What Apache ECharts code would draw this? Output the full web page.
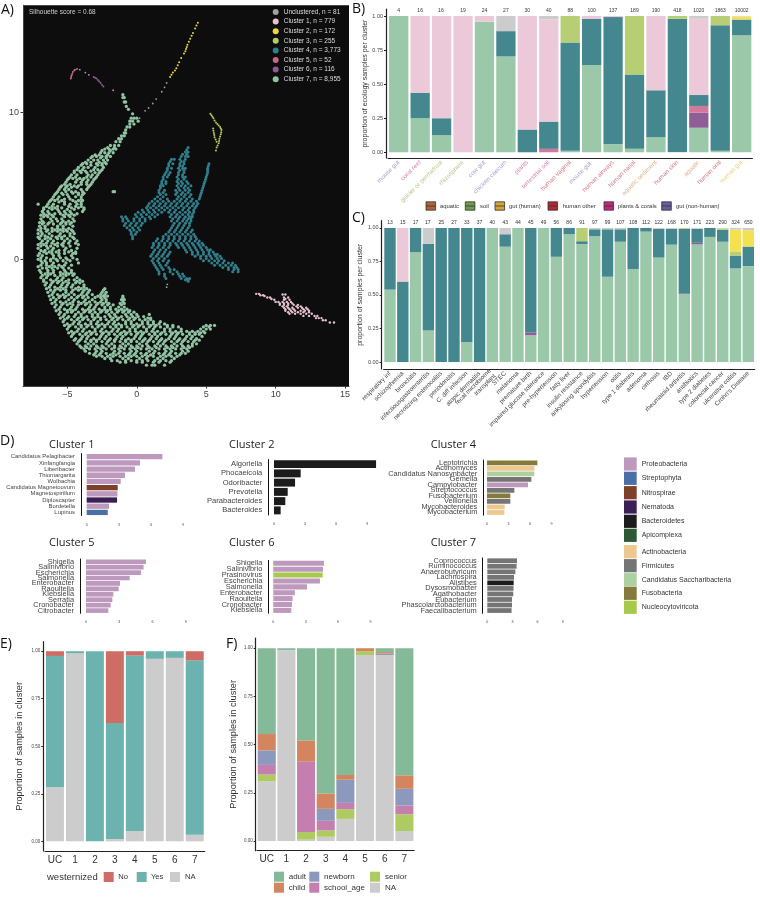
<!DOCTYPE html>
<html>
<head>
<meta charset="utf-8">
<title>Cluster overview</title>
<script src="https://cdn.jsdelivr.net/npm/echarts@6/dist/echarts.min.js"></script>
<style>
  html, body { margin: 0; padding: 0; background: #fff; }
  #main { width: 760px; height: 897px; }
</style>
</head>
<body>
<div id="main"></div>
<script>
// ---- panel A: embedding as [y, x, x, ...] rows
const cluster7Rows = [
  [11.2,-1.0],[11.0,-1.0,-0.9],[10.7,-0.9,-0.8],[10.4,-0.75],[10.2,-0.6],[9.9,-0.3],
  [9.6,-0.4,-0.2,0],[9.4,-0.5,-0.3,0.1],[9.2,-0.5,-0.2],[9.0,-0.7,-0.5],[8.8,-0.8],[8.6,-0.9,-0.8],
  [8.4,-1.1,-0.9],[8.2,-1.3,-1.1],[8.0,-1.5,-1.2],[7.75,-1.9,-1.6,-1.3],[7.5,-2.3,-2.0,-1.7,-1.5],
  [7.25,-2.6,-2.3,-2.0,-1.7],[7.0,-3.2,-2.9,-2.5,-2.2,-1.9],[6.75,-3.5,-3.1,-2.8,-2.4,-2.1],
  [6.5,-3.9,-3.6,-2.9,-2.5,-2.2],[6.25,-4.2,-3.8,-3.5,-3.0,-2.4],[6.0,-4.5,-4.1,-3.7,-3.3,-2.6],
  [5.75,-4.7,-4.3,-3.5,-3.2,-2.8],[5.5,-4.9,-4.6,-4.1,-3.8,-3.0],[5.25,-5.1,-4.4,-4.0,-3.6,-3.2],
  [5.0,-5.4,-5.0,-4.5,-4.2,-3.4],[4.75,-5.6,-5.2,-4.9,-4.0,-3.6],[4.5,-5.8,-5.4,-4.6,-4.2,-3.8],
  [4.25,-6.0,-5.6,-4.9,-4.4,-4.0],[4.0,-6.2,-5.9,-5.4,-4.6,-4.2,-3.9],[3.75,-7.1,-6.4,-6.0,-5.2,-4.8,-4.3,-4.0],
  [3.5,-6.7,-6.3,-5.9,-5.4,-4.7,-4.2,-3.8],[3.25,-6.8,-6.4,-5.6,-5.2,-4.8,-3.9],[3.0,-6.9,-6.5,-6.1,-5.3,-4.9,-4.5],
  [2.75,-6.9,-6.2,-5.8,-5.4,-4.6],[2.5,-7.0,-6.7,-6.3,-5.4,-5.1,-4.7],[2.25,-7.0,-6.6,-5.7,-5.3,-4.6],
  [2.0,-7.1,-6.4,-5.9,-5.5,-5.1,-4.7],[1.75,-7.1,-6.8,-6.3,-5.5,-4.8,-4.5],[1.5,-7.1,-6.4,-5.8,-5.4,-4.6],
  [1.25,-6.8,-6.4,-6.0,-5.2,-4.8,-4.3],[1.0,-7.1,-6.7,-5.9,-5.4,-4.2],[0.75,-7.1,-6.4,-6.0,-5.1,-4.3],
  [0.5,-6.7,-6.3,-5.8,-4.9,-4.4],[0.25,-7.1,-6.8,-6.0,-5.6,-4.7],[0,-7.1,-6.2,-5.8,-5.0,-4.3],
  [-0.25,-6.8,-6.5,-6.0,-5.1,-4.2],[-0.5,-7.1,-6.3,-5.9,-5.4],[-0.75,-7.0,-6.4,-6.0,-5.2,-4.7],
  [-1.0,-6.6,-6.2,-5.3,-4.9,-4.5],[-1.25,-6.9,-6.5,-5.7,-5.3,-4.3],[-1.5,-6.7,-6.0,-5.6,-5.1,-4.3,-3.9],
  [-1.75,-6.6,-6.2,-5.4,-5.0,-4.6,-3.8],[-2.0,-6.5,-5.7,-5.3,-4.4,-4.0,-3.6,-2.3],
  [-2.25,-6.4,-6.0,-5.1,-4.7,-3.9,-3.5,-2.5,-2.2],[-2.5,-6.3,-5.5,-5.1,-4.2,-3.8,-2.8,-2.4,-2.1,-1.0],
  [-2.75,-6.2,-5.8,-4.9,-4.5,-3.7,-3.2,-2.5,-2.2,-1.1,-0.9],[-3.0,-6.1,-5.3,-4.8,-4.0,-3.6,-2.8,-2.4,-2.0,-1.2,-0.9],
  [-3.25,-5.9,-5.5,-4.7,-4.3,-3.4,-3.0,-2.3,-1.9,-1.3,-0.9],[-3.5,-5.8,-5.0,-4.6,-3.7,-3.3,-2.5,-2.1,-1.3,-0.9,-0.5],
  [-3.75,-5.6,-5.2,-4.4,-4.0,-3.2,-2.8,-2.0,-1.6,-0.8,-0.4,0,0.9],[-4.0,-5.5,-5.0,-4.2,-3.8,-3.0,-2.6,-1.7,-1.3,-0.5,-0.1,0.8,1.0],
  [-4.25,-5.3,-4.5,-4.1,-3.3,-2.8,-2.0,-1.6,-0.8,-0.4,0.4,0.8,1.2,1.7],
  [-4.5,-5.2,-4.8,-4.0,-3.5,-2.7,-2.3,-1.5,-1.1,-0.2,0.2,1.0,1.4,2.2,2.6,5.0,5.3,5.6],
  [-4.75,-5.0,-4.2,-3.8,-3.0,-2.5,-1.7,-1.3,-0.5,-0.1,0.7,1.2,2.0,2.4,3.2,4.6,5.0,5.3],
  [-5.0,-4.9,-4.5,-3.6,-3.2,-2.4,-2.0,-1.1,-0.7,0.1,0.5,1.3,1.8,2.6,3.0,3.8,4.2,4.6,4.9],
  [-5.25,-4.7,-3.9,-3.5,-2.6,-2.2,-1.4,-1.0,-0.1,0.3,1.1,1.5,2.4,2.8,3.6,4.0,4.7],
  [-5.5,-4.5,-4.1,-3.3,-2.9,-2.0,-1.6,-0.8,-0.4,0.5,0.9,1.7,2.1,3.0,3.4,4.2,4.5],
  [-5.75,-4.3,-3.5,-3.1,-2.2,-1.8,-1.0,-0.6,0.2,0.7,1.5,1.9,2.7,3.2,4.0,4.3],
  [-6.0,-4.0,-3.6,-2.8,-2.4,-1.6,-1.1,-0.3,0.1,0.9,1.4,2.2,2.6,3.4,3.8],
  [-6.25,-3.7,-2.9,-2.5,-1.6,-1.2,-0.4,0,0.9,1.3,2.1,2.5,3.3,3.7],
  [-6.5,-3.1,-2.7,-1.9,-1.5,-0.6,-0.2,0.6,1.0,1.9,2.3,3.1],
  [-6.75,-2.3,-1.9,-1.0,-0.6,0.2,0.7,1.5,1.9,2.7],
  [-7.0,-1.2,-0.8,0,0.4,1.2,1.6,2.4],[-7.2,0.7,1.1,1.3,2.0],[4.6,-1.7,-1.6],
  // in-between rows
  [7.6,-2.1,-1.6],[7.4,-2.5,-1.9],[7.1,-3.0,-2.7,-2.1],[6.9,-3.3,-2.6,-2.2],[6.6,-3.7,-3.3,-2.7,-2.3],
  [6.4,-4.0,-3.3,-2.8,-2.5],[6.1,-4.3,-3.9,-3.1,-2.8,-2.5],[5.9,-4.5,-4.0,-3.6,-3.0,-2.7],[5.6,-4.8,-4.4,-3.6,-3.3,-2.9],[5.4,-5.0,-4.3,-3.9,-3.5,-3.1],
  [5.1,-5.2,-4.8,-4.0,-3.6,-3.3],[4.9,-5.5,-5.1,-4.7,-4.3,-3.5],[4.6,-5.7,-5.1,-4.7,-4.4,-3.9],[4.4,-5.9,-5.3,-5.0,-4.2,-3.9],[4.1,-6.1,-5.7,-5.2,-4.8,-4.0],
  [3.9,-6.3,-5.6,-5.2,-4.4,-4.0],[3.6,-6.5,-6.1,-5.7,-4.9,-4.4,-4.0],[3.4,-6.7,-6.1,-5.7,-5.0,-4.5,-3.8],[3.1,-6.7,-6.3,-5.9,-5.5,-5.1,-4.7,-4.3],[2.9,-6.7,-6.4,-6.0,-5.2,-4.8],
  [2.6,-6.8,-6.1,-5.7,-5.3,-4.9,-4.5],[2.4,-6.8,-6.4,-6.0,-5.5,-5.1,-4.8],[2.1,-6.9,-6.6,-6.1,-5.7,-5.3,-4.9],[1.9,-6.9,-6.5,-6.1,-5.7,-5.3,-5.0,-4.6],[1.6,-6.9,-6.6,-6.1,-5.6,-5.2,-4.8],
  [1.4,-7.0,-6.6,-6.2,-5.7,-5.4,-5.0,-4.5],[1.1,-6.9,-6.5,-6.1,-5.7,-5.3,-4.9,-4.4],[0.9,-6.9,-6.5,-6.2,-5.7,-5.3,-4.8],[0.6,-6.9,-6.6,-6.1,-5.6,-5.2,-4.7],[0.4,-7.0,-6.5,-6.1,-5.6,-5.2,-4.6,-4.4],
  [0.1,-6.9,-6.5,-6.0,-5.5,-5.1,-4.6],[-0.1,-6.9,-6.6,-6.2,-5.7,-5.3,-4.8],[-0.4,-6.9,-6.5,-6.1,-5.6,-5.2,-4.7],[-0.6,-6.8,-6.5,-6.1,-5.7,-5.3,-4.9],[-0.9,-6.9,-6.4,-6.0,-5.5,-5.1,-4.7],
  [-1.1,-6.8,-6.4,-5.9,-5.5,-5.1,-4.6],[-1.4,-6.7,-6.2,-5.8,-5.4,-4.9,-4.5,-4.1],[-1.6,-6.5,-6.1,-5.7,-5.3,-4.9,-4.4,-4.1],[-1.9,-6.3,-5.9,-5.5,-5.1,-4.7,-4.2,-3.8],[-2.1,-6.2,-5.9,-5.5,-5.1,-4.6,-4.2,-3.8,-3.4,-2.4],
  [-2.4,-6.1,-5.7,-5.3,-4.9,-4.5,-4.0,-3.6,-3.2,-2.6,-2.3],[-2.6,-6.0,-5.6,-5.2,-4.7,-4.3,-3.9,-3.5,-3.0,-2.6,-2.3,-1.0],[-2.9,-5.9,-5.5,-5.1,-4.6,-4.2,-3.8,-3.4,-3.0,-2.6,-2.2,-1.0],
  [-3.1,-5.8,-5.4,-5.0,-4.6,-4.2,-3.7,-3.3,-2.9,-2.5,-2.1,-1.7,-1.1],[-3.4,-5.6,-5.2,-4.8,-4.4,-3.9,-3.5,-3.1,-2.7,-2.3,-1.9,-1.5,-1.1,-0.7],
  [-3.6,-5.5,-5.0,-4.7,-4.2,-3.8,-3.4,-3.0,-2.6,-2.2,-1.8,-1.4,-1.0,-0.6,-0.2],[-3.9,-5.3,-4.9,-4.5,-4.0,-3.6,-3.2,-2.8,-2.3,-1.9,-1.5,-1.1,-0.7,-0.3,0.1,0.5],
  [-4.1,-5.2,-4.7,-4.3,-3.9,-3.5,-3.1,-2.6,-2.2,-1.8,-1.4,-1.0,-0.6,-0.2,0.2,0.6,1.0],[-4.4,-5.0,-4.6,-4.2,-3.7,-3.3,-2.9,-2.5,-2.1,-1.7,-1.3,-0.8,-0.4,0,0.4,0.8,1.2,1.6,2.0],
  [-4.6,-4.9,-4.4,-4.0,-3.6,-3.2,-2.8,-2.3,-1.9,-1.5,-1.1,-0.7,-0.3,0.1,0.5,0.9,1.3,1.7,2.2,2.6,3.0,4.8,5.2],
  [-4.9,-4.7,-4.3,-3.9,-3.4,-3.0,-2.6,-2.2,-1.8,-1.4,-0.9,-0.5,-0.1,0.3,0.7,1.1,1.5,2.0,2.4,2.8,3.2,3.6,4.0,4.4,4.8],
  [-5.1,-4.6,-4.1,-3.7,-3.3,-2.9,-2.5,-2.0,-1.6,-1.2,-0.8,-0.4,0,0.4,0.9,1.3,1.7,2.1,2.5,2.9,3.3,3.8,4.2,4.5],
  [-5.4,-4.4,-4.0,-3.6,-3.1,-2.7,-2.3,-1.9,-1.5,-1.1,-0.6,-0.2,0.2,0.6,1.0,1.4,1.8,2.3,2.7,3.1,3.5,3.9,4.3],
  [-5.6,-4.2,-3.7,-3.3,-2.9,-2.5,-2.1,-1.6,-1.2,-0.8,-0.4,0,0.4,0.8,1.2,1.6,2.0,2.5,2.9,3.3,3.7,4.1],
  [-5.9,-4.1,-3.7,-3.3,-2.9,-2.5,-2.0,-1.6,-1.2,-0.8,-0.4,0,0.4,0.8,1.3,1.7,2.1,2.5,2.9,3.3,3.7,4.0],
  [-6.1,-3.8,-3.4,-3.0,-2.6,-2.2,-1.8,-1.3,-0.9,-0.5,-0.1,0.3,0.7,1.1,1.6,2.0,2.4,2.8,3.2,3.6],
  [-6.4,-3.4,-3.0,-2.6,-2.2,-1.7,-1.3,-0.9,-0.5,-0.1,0.3,0.7,1.2,1.6,2.0,2.4,2.8,3.2,3.5],
  [-6.6,-2.9,-2.5,-2.1,-1.7,-1.2,-0.8,-0.4,0,0.4,0.8,1.2,1.7,2.1,2.5,2.9],
  [-6.9,-1.8,-1.4,-0.8,-0.4,0,0.4,0.8,1.3,1.7,2.1,2.5]
];
const cluster4Rows = [
  [7.6,3.7],[7.3,3.5,3.7],[7.0,3.2,3.5,3.7],[6.8,2.5,2.7,3.1,3.5],[6.5,2.3,2.6,3.1,3.4,5.2],
  [6.2,2.2,2.5,3.0,3.3,3.5,5.1],[5.9,2.1,2.4,3.0,3.4,5.1],[5.6,1.9,2.2,2.9,3.3,3.5,5.0],
  [5.3,1.8,2.1,2.9,3.2,3.6,4.9],[5.0,1.7,1.9,2.9,3.2,3.5,3.9,4.8],[4.7,1.6,2.0,2.8,3.1,3.5,3.8,4.7],
  [4.4,1.7,2.1,2.8,3.2,3.5,3.9,4.6],[4.1,1.3,1.7,2.2,2.9,3.2,3.6,4.0,4.5],
  [3.8,0.9,1.3,1.7,2.1,2.5,2.9,3.3,3.7,4.1,4.4],[3.5,0.7,1.0,1.4,1.8,2.2,2.6,3.0,3.4,3.8,4.2],
  [3.2,0.1,0.5,0.9,1.3,1.8,2.3,2.7,3.1,3.5,3.8,4.1],[2.9,-1.1,-0.8,0,0.4,0.9,1.3,2.4,2.8,3.1,3.5,3.8,4.0],
  [2.6,-1.0,-0.6,-0.2,0.2,0.6,2.5,2.9,3.3,3.6,3.9],[2.3,-0.9,-0.5,-0.1,0.3,2.6,3.0,3.4,3.8],
  [2.0,-0.5,-0.2,0.2,2.4,2.8,3.2,3.6,4.0],[1.7,-0.4,-0.1,2.1,2.5,2.9,3.3,3.7,4.1],
  [1.4,-0.3,1.5,1.9,2.3,2.7,3.1,3.5,3.9,4.3],[1.1,1.2,1.6,2.0,2.4,2.8,3.2,3.6,4.0,4.4,4.7],
  [0.8,1.1,1.5,1.9,2.3,3.0,3.4,3.8,4.2,4.6,5.0],[0.5,1.2,1.6,2.0,2.4,3.6,4.0,4.4,4.8,5.2,5.5],
  [0.2,1.0,1.4,1.8,2.2,4.2,4.6,5.0,5.3,5.7,6.0],[-0.1,1.1,1.5,1.9,2.3,4.8,5.2,5.6,5.9,6.3],
  [-0.4,1.3,1.7,2.1,5.6,6.0,6.4,6.8,7.1],[-0.7,1.5,1.9,2.4,2.7,6.6,7.0,7.3],
  [-1.0,1.6,2.0,2.6,3.0,3.3],[-1.3,2.1,3.2,3.6,3.8],[-1.5,3.7],
  // in-between rows
  [7.45,3.6],[7.15,3.3,3.6],[6.65,2.4,3.2,3.4],[6.35,2.3,3.1,3.3,5.15],[6.05,2.2,3.1,3.4,5.1],[5.75,2.0,2.3,3.0,3.3,5.05],[5.45,1.9,3.0,3.4,4.95],
  [5.15,1.8,2.1,3.0,3.3,3.7,4.85],[4.85,1.7,3.0,3.4,3.7,4.75],[4.55,1.6,1.9,2.9,3.3,3.7,4.65],[4.25,1.5,1.9,3.0,3.4,3.8,4.55],
  [3.95,1.1,1.5,1.9,2.3,2.7,3.1,3.5,3.9,4.3],[3.65,0.8,1.2,1.6,2.0,2.4,2.8,3.2,3.6,4.0,4.3],[3.35,0.4,0.8,1.2,1.6,2.0,2.4,2.8,3.3,3.7,4.1],
  [3.05,-0.1,0.3,0.7,1.1,1.5,2.5,2.9,3.3,3.7,4.0],[2.75,-1.0,-0.7,-0.2,0.2,0.6,1.0,2.6,3.0,3.4,3.7,3.9],[2.45,-0.8,-0.4,0,0.4,2.7,3.1,3.5,3.8],
  [2.15,-0.7,-0.3,0.1,2.5,2.9,3.3,3.7],[1.85,-0.4,0,2.3,2.7,3.1,3.5,3.9],[1.55,-0.3,1.9,2.3,2.7,3.1,3.5,3.9,4.2],[1.25,1.4,1.8,2.2,2.6,3.0,3.4,3.8,4.2,4.5],
  [0.95,1.2,1.6,2.0,2.4,2.9,3.3,3.7,4.1,4.5,4.8],[0.65,1.3,1.7,2.1,3.5,3.9,4.3,4.7,5.1,5.3],[0.35,1.1,1.5,1.9,2.3,4.0,4.4,4.8,5.2,5.6,5.8],
  [0.05,1.2,1.6,2.0,4.6,5.0,5.4,5.8,6.1],[-0.25,1.2,1.6,2.2,5.4,5.8,6.2,6.6,6.9],[-0.55,1.4,1.8,2.3,6.2,6.6,7.0,7.2],[-0.85,1.6,2.4,2.9,6.9,7.3],[-1.15,2.0,3.1,3.4],[-1.4,3.5,3.7]
];
const cluster1Rows = [
  [-2.35,8.6,8.8],[-2.45,8.9,9.1],[-2.5,9.2],[-2.4,10.5,10.7],[-2.6,9.4,9.6,10.6,10.9],[-2.7,9.7,10.7],[-2.75,9.9,10.6,11.0],
  [-2.9,10.0,10.2,10.5,10.8,11.1],[-3.0,10.3,10.6,10.9,11.2],[-3.1,10.3,10.6,10.9,11.3,11.6],[-3.2,10.5,10.8,11.5,11.8],[-3.3,10.6,10.9,11.2,11.6,11.9,12.2],
  [-3.4,10.7,11.0,11.3,12.0,12.3],[-3.5,10.7,11.1,11.4,11.8,12.1,12.4],[-3.6,10.9,11.2,11.6,12.0,12.4],[-3.7,11.0,11.4,11.8,12.2,12.6],[-3.85,12.0,12.4,12.8,13.0],
  [-4.0,12.9,13.1,13.3],[-4.15,13.4,13.6],[-4.3,13.9,14.2]
];
const cluster2Pts = [[2.4,12.4],[2.5,12.55],[2.6,12.7],[2.75,12.85],[2.85,13.0],[2.95,13.2],[3.05,13.4],[3.2,13.7],[3.4,14.0],[3.5,14.15],[3.55,14.3],[3.6,14.45],[3.65,14.6],[3.75,14.8],[3.85,15.0],[3.95,15.2],[4.05,15.4],[4.2,15.7],[4.3,15.9],[4.4,16.1]];
const cluster3Pts = [[5.3,9.9],[5.38,9.8],[5.45,9.7],[5.52,9.6],[5.6,9.45],[5.7,9.3],[5.8,9.2],[5.9,9.1],[6.0,9.0],[6.05,8.9],[6.1,8.8],[6.08,8.65],[6.05,8.5],[6.0,8.35],[5.95,8.2],[5.93,8.05],[5.9,7.9],[5.82,7.75],[5.75,7.6],[5.7,7.4],[5.5,8.9],[5.52,8.75],[5.55,8.6],[5.58,8.45],[5.6,8.3],[5.68,8.15],[5.75,8.0]];
const cluster5Pts = [[-4.75,12.3],[-4.72,12.4],[-4.7,12.5],[-4.65,12.6],[-4.6,12.75],[-4.5,12.85],[-4.45,12.9],[-4.3,12.95]];
const cluster6Pts = [[-3.1,12.4],[-3.0,12.35],[-2.9,12.3],[-2.8,12.2],[-2.7,12.1],[-2.6,12.0],[-2.5,11.85],[-2.4,11.75]];
const unclusteredPts = [[-4.1,12.9],[-3.7,12.7],[-3.45,12.55],[-1.7,11.5],[0.6,10.1],[0.85,10.3],[1.15,10.6],[1.4,10.9],[1.8,11.4],[2.0,11.7],[2.15,12.0],[2.2,-1.7],[2.15,-1.9],[0.2,9.6]];

const clusterLegend = ['Unclustered, n = 81','Cluster 1, n = 779','Cluster 2, n = 172','Cluster 3, n = 255','Cluster 4, n = 3,773','Cluster 5, n = 52','Cluster 6, n = 116','Cluster 7, n = 8,955'];

// ---- panel B: ecology
const ecologyNames = ['mouse gut','coral reef','glacier or permafrost','rhizosphere','cow gut','chicken caecum','plants','terrestrial soil','human vaginal','mouse gut ','human airways','human nasal','aquatic sediment','human skin','aquatic','human oral','human gut'];
const ecologyCounts = ['4','16','16 ','19','24','27','30','40','88','100','137','189','190','418','1020','1863','10002'];
const ecologyGroups = ['nh','pc','so','so','nh','nh','pc','pc','ho','nh','ho','ho','aq','ho','aq','ho','gh'];
const ecoC7 = [1,0.25,0.125,0,0.958,0.704,0,0,0.011,0.64,0.058,0.026,0.11,0.002,0.18,0.012,0.86];
const ecoC6 = [0,0,0,0,0,0,0,0,0,0,0,0,0,0,0.11,0,0];
const ecoC5 = [0,0,0,0,0,0,0,0.025,0,0,0,0,0,0,0.05,0,0];
const ecoC4 = [0,0.1875,0.125,0,0,0.185,0.167,0.2,0.795,0.34,0.934,0.545,0.345,0.978,0.08,0.92,0.112];
const ecoC3 = [0,0,0,0,0,0,0,0,0.194,0,0,0.429,0,0.02,0,0.068,0.005];
const ecoC2 = [0,0,0,0,0,0,0,0,0,0,0,0,0,0,0,0,0.02];
const ecoC1 = [0,0.5625,0.75,1,0.042,0,0.833,0.75,0,0.02,0.008,0,0.545,0,0.56,0,0.003];
const ecoUC = [0,0,0,0,0,0.111,0,0.025,0,0,0,0,0,0,0.02,0,0];

// ---- panel C: disease
const diseaseNames = ['respiratory inf','schizophrenia','bronchitis','infectiousgastroenteritis','necrotizing enterocolitis','periodontitis','C. diff infection','atopic dermatitis','fecal microbiome\ntransplant','STEC','melanoma','premature birth','impaired glucose tolerance','pre-hypertension','fatty liver','insulin resistance','ankylosing spondylitis','hypertension','otitis','type 1 diabetes','adenoma','cirrhosis','IBD','rheumatoid arthritis','antibiotics','type 2 diabetes','colorectal cancer','ulcerative colitis',"Crohn's Disease"];
const diseaseCounts = ['13','15','17','17 ','25','27','33','37','40','43','44','45','49','56','86','91','97','99','107','108','112','122','168','170','171','223','290','324','650'];
const disC7 = [0.54,0,0.82,0.235,0,0,0.15,0,1,0.86,1,0.2,1,0.785,0.953,0.879,0.938,0.636,0.897,0.694,0.973,0.779,0.875,0.506,0.877,0.933,0.897,0.698,0.715];
const disC6 = [0,0,0,0,0,0,0,0,0,0,0,0.022,0,0,0,0,0,0,0,0,0,0,0,0.006,0.012,0,0,0,0];
const disC4 = [0.46,0.6,0.18,0.647,1,1,0.85,1,0,0.093,0,0.778,0,0.215,0.047,0.022,0.052,0.354,0.093,0.306,0.027,0.213,0.119,0.482,0.105,0.067,0.09,0.093,0.145];
const disC3 = [0,0,0,0,0,0,0,0,0,0,0,0,0,0,0,0.099,0,0,0,0,0,0,0,0.006,0,0,0.01,0.034,0.003];
const disC2 = [0,0,0,0,0,0,0,0,0,0,0,0,0,0,0,0,0,0,0,0,0,0,0,0,0,0,0,0.163,0.12];
const disC1 = [0,0.4,0,0,0,0,0,0,0,0,0,0,0,0,0,0,0,0,0,0,0,0,0,0,0,0,0,0,0];
const disUC = [0,0,0,0.118,0,0,0,0,0,0.047,0,0,0,0,0,0,0.01,0.01,0.01,0,0,0.008,0.006,0,0.006,0,0.003,0.012,0.017];

// ---- panel D: top genera per cluster
const c1Genus = ['Candidatus Pelagibacter','Xinfangfangia','Liberibacter','Thiomargarita','Wolbachia','Candidatus Magnetoovum','Magnetospirillum','Diploscapter','Bordetella','Lupinus'];
const c1Vals = [7.05,4.97,4.5,3.57,3.17,2.89,2.86,2.83,2.08,1.96];
const c1Phyla = ['pr','pr','pr','pr','pr','ni','pr','ne','pr','st'];
const c2Genus = ['Algoriella','Phocaeicola','Odoribacter','Prevotella','Parabacteroides','Bacteroides'];
const c2Vals = [9.84,2.57,2.03,1.32,1.09,0.64];
const c2Phyla = ['ba','ba','ba','ba','ba','ba'];
const c4Genus = ['Leptotrichia','Actinomyces','Candidatus Nanosynbacter','Gemella','Campylobacter','Streptococcus','Fusobacterium','Veillonella','Mycobacteroides','Mycobacterium'];
const c4Vals = [7.04,6.62,6.6,6.2,5.73,3.82,3.26,3.26,2.47,2.42];
const c4Phyla = ['fu','ac','sa','fi','pr','fi','fu','fi','ac','ac'];
const c5Genus = ['Shigella','Salinivibrio','Escherichia','Salmonella','Enterobacter','Raoultella','Klebsiella','Serratia','Cronobacter','Citrobacter'];
const c5Vals = [5.42,5.2,4.97,3.95,3.07,2.95,2.47,2.38,2.23,2.02];
const c5Phyla = ['pr','pr','pr','pr','pr','pr','pr','pr','pr','pr'];
const c6Genus = ['Shigella','Salinivibrio','Prasinovirus','Escherichia','Salmonella','Enterobacter','Raoultella','Cronobacter','Klebsiella'];
const c6Vals = [4.69,4.6,4.57,4.32,3.12,2.0,1.79,1.73,1.67];
const c6Phyla = ['pr','pr','nu','pr','pr','pr','pr','pr','pr'];
const c7Genus = ['Coprococcus','Ruminococcus','Anaerobutyricum','Lachnospira','Alistipes','Dysosmobacter','Agathobacter','Eubacterium','Phascolarctobacterium','Faecalibacterium'];
const c7Vals = [3.55,3.5,3.35,3.19,3.15,3.13,3.1,2.95,2.95,2.9];
const c7Phyla = ['fi','fi','fi','fi','ba','fi','fi','fi','fi','fi'];
const phylaNames = ['Proteobacteria','Streptophyta','Nitrospirae','Nematoda','Bacteroidetes','Apicomplexa','Actinobacteria','Firmicutes','Candidatus Saccharibacteria','Fusobacteria','Nucleocytoviricota'];
const phylaKeys = ['pr','st','ni','ne','ba','ap','ac','fi','sa','fu','nu'];

// ---- panels E, F
const clusterCats = ['UC','1','2','3','4','5','6','7'];
const westNA = [0.285,0.99,0,0.012,0.055,0.96,0.965,0.035];
const westYes = [0.69,0.01,1,0.61,0.922,0.04,0.035,0.917];
const westNo = [0.025,0,0,0.378,0.023,0,0,0.048];
const ageNA = [0.31,0.99,0.007,0.022,0.115,0.965,0.965,0.052];
const ageSenior = [0.035,0,0.04,0.033,0.05,0.02,0,0.087];
const ageSchool = [0.05,0,0.365,0.05,0.033,0,0,0.045];
const ageNewborn = [0.075,0,0,0.062,0.12,0,0.007,0.087];
const ageChild = [0.085,0,0.11,0.08,0.025,0.015,0.008,0.07];
const ageAdult = [0.445,0.01,0.478,0.753,0.657,0,0.02,0.659];

// colours
const colUC = '#cccccc', colC1 = '#ebc9d8', colC2 = '#f5e050', colC3 = '#b7ce74', colC4 = '#45878f', colC5 = '#d2789a', colC6 = '#8e5e96', colC7 = '#9bc8a8';
const phylaColors = { pr:'#bd9abd', st:'#4a6fa5', ni:'#7d412b', ne:'#3c2055', ba:'#1c1c1c', ap:'#2d5a35', ac:'#eec98f', fi:'#757575', sa:'#aed0a0', fu:'#857a3c', nu:'#a8c84b' };
const groupColors = { nh:'#a9a3cc', pc:'#d884b0', so:'#b6c98e', ho:'#d8808a', aq:'#e0b48e', gh:'#e8d27a' };
const FONT = '"Liberation Sans", Arial, sans-serif';
const TITLE_FONT = '"Open Sans", sans-serif';

function flatten(rows) {
  const out = [];
  rows.forEach(r => { for (let i = 1; i < r.length; i++) out.push([r[i], r[0]]); });
  return out;
}

const grid = [], xAxis = [], yAxis = [], series = [], graphic = [];

function addText(x, y, text, size, opt) {
  graphic.push({ type: 'text', x: x, y: y, silent: true, rotation: (opt && opt.rotation) || 0,
    style: { text: text, fontSize: size, fontFamily: (opt && opt.family) || FONT, fill: (opt && opt.fill) || '#333',
      verticalAlign: 'middle', align: (opt && opt.align) || 'left' } });
}
function addRect(x, y, w, h, fill) {
  graphic.push({ type: 'rect', silent: true, shape: { x: x, y: y, width: w, height: h }, style: { fill: fill } });
}
function minusFmt(v) { return String(v).replace('-', '\u2212'); }

// ---- A
grid.push({ left: 23, top: 5.3, width: 326, height: 380.7, show: true, backgroundColor: '#0d0d0d', borderWidth: 0 });
xAxis.push({ gridIndex: 0, type: 'value', min: -8.19, max: 15.28, splitLine: { show: false },
  axisLine: { onZero: false, lineStyle: { color: '#444' } }, axisTick: { length: 2.5, lineStyle: { color: '#333' }, customValues: [-5,0,5,10,15] },
  axisLabel: { customValues: [-5,0,5,10,15], formatter: minusFmt, fontSize: 9, color: '#444', fontFamily: FONT, margin: 4 } });
yAxis.push({ gridIndex: 0, type: 'value', min: -8.62, max: 17.28, splitLine: { show: false },
  axisLine: { onZero: false, lineStyle: { color: '#444' } }, axisTick: { length: 2.5, lineStyle: { color: '#333' }, customValues: [0,10] },
  axisLabel: { customValues: [0,10], formatter: minusFmt, fontSize: 9, color: '#444', fontFamily: FONT, margin: 4 } });
const scatterSets = [
  [unclusteredPts, '#a0a0a0', 1.8], [flatten(cluster1Rows), '#e8c0d2', 2.4], [cluster2Pts, '#efd53a', 2], [cluster3Pts, '#b5cc5e', 2],
  [flatten(cluster4Rows), '#2f7f8c', 3], [cluster5Pts, '#c8668a', 2], [cluster6Pts, '#8c5a96', 2], [flatten(cluster7Rows), '#8fc3a2', 3.3]
];
scatterSets.forEach((s, i) => {
  series.push({ name: clusterLegend[i], type: 'scatter', xAxisIndex: 0, yAxisIndex: 0, data: s[0], symbolSize: s[2],
    itemStyle: { color: s[1], opacity: 1 }, silent: true, animation: false, large: false });
});
addText(29, 12, 'Silhouette score = 0.68', 6.5, { fill: '#cfcfcf' });

// ---- stacked bar panels
function stackedPanel(cfg) {
  const g = grid.length;
  grid.push({ left: cfg.left, top: cfg.top, width: cfg.width, height: cfg.height });
  xAxis.push({ gridIndex: g, type: 'category', data: cfg.cats,
    axisLine: { onZero: false, lineStyle: { color: '#222', width: 1.2 } },
    axisTick: { alignWithLabel: true, length: 2, lineStyle: { color: '#222' } },
    axisLabel: Object.assign({ interval: 0, fontFamily: FONT, margin: 3.5 }, cfg.xLabel) });
  yAxis.push({ gridIndex: g, type: 'value', min: cfg.yMin, max: cfg.yMax, offset: cfg.yOffset, splitLine: { show: false },
    axisLine: { onZero: false, show: true, lineStyle: { color: '#222', width: 1.2 } },
    axisTick: { show: true, length: 2, lineStyle: { color: '#222' }, customValues: [0,0.25,0.5,0.75,1] },
    axisLabel: { customValues: [0,0.25,0.5,0.75,1], formatter: v => v.toFixed(2), fontSize: cfg.yFont, color: '#444', fontFamily: FONT, margin: 3 },
    name: cfg.yTitle, nameLocation: 'middle', nameGap: cfg.yNameGap, nameTextStyle: { fontSize: cfg.yTitleFont, color: '#333', fontFamily: FONT } });
  const xIndex = xAxis.length - 1;
  if (cfg.counts) {
    xAxis.push({ gridIndex: g, type: 'category', position: 'top', data: cfg.counts, axisLine: { show: false }, axisTick: { show: false },
      axisLabel: { interval: 0, fontSize: 5, color: '#333', fontFamily: FONT, margin: cfg.countMargin } });
  }
  cfg.stack.forEach(s => {
    series.push({ name: s[2], type: 'bar', stack: 'p' + g, xAxisIndex: xIndex, yAxisIndex: g, data: s[0], barCategoryGap: cfg.gap,
      itemStyle: { color: s[1] }, silent: true, animation: false });
  });
}
const ecoStack = [[ecoC7,colC7,'e7'],[ecoC6,colC6,'e6'],[ecoC5,colC5,'e5'],[ecoC4,colC4,'e4'],[ecoC3,colC3,'e3'],[ecoC2,colC2,'e2'],[ecoC1,colC1,'e1'],[ecoUC,colUC,'eu']];
stackedPanel({ left: 388, top: 9.2, width: 364.4, height: 148.8, cats: ecologyNames, counts: ecologyCounts, countMargin: -4, yMin: -0.042, yMax: 1.05, yOffset: 2, yFont: 5.5,
  xLabel: { rotate: 45, fontSize: 6.2, color: (v, i) => groupColors[ecologyGroups[i]] }, yTitle: 'proportion of ecology samples per cluster', yNameGap: 15, yTitleFont: 7, gap: '10%', stack: ecoStack });
const disStack = [[disC7,colC7,'d7'],[disC6,colC6,'d6'],[disC4,colC4,'d4'],[disC3,colC3,'d3'],[disC2,colC2,'d2'],[disC1,colC1,'d1'],[disUC,colUC,'du']];
stackedPanel({ left: 383.6, top: 220.7, width: 371.1, height: 148.3, cats: diseaseNames, counts: diseaseCounts, countMargin: -4, yMin: -0.052, yMax: 1.054, yOffset: 2, yFont: 5.5,
  xLabel: { rotate: 45, fontSize: 6.3, color: '#444', lineHeight: 7 }, yTitle: 'proportion of samples per cluster', yNameGap: 15, yTitleFont: 7, gap: '11%', stack: disStack });
const westStack = [[westNA,'#cccccc','wna'],[westYes,'#6cb3af','wy'],[westNo,'#cd6d65','wn']];
stackedPanel({ left: 45, top: 641.7, width: 159.7, height: 209.3, cats: clusterCats, yMin: -0.0508, yMax: 1.05, yOffset: 1.7, yFont: 4.5,
  xLabel: { fontSize: 10, color: '#333', margin: 4 }, yTitle: 'Proportion of samples in cluster', yNameGap: 19.5, yTitleFont: 9.2, gap: '10%', stack: westStack });
const ageStack = [[ageNA,'#cccccc','ana'],[ageSenior,'#aecb62','as'],[ageSchool,'#c47fae','asc'],[ageNewborn,'#8c98bc','an'],[ageChild,'#d2855f','ac'],[ageAdult,'#85ba98','aa']];
stackedPanel({ left: 256.9, top: 638, width: 157.3, height: 212.7, cats: clusterCats, yMin: -0.05, yMax: 1.053, yOffset: 1.2, yFont: 4.5,
  xLabel: { fontSize: 10, color: '#333', margin: 4 }, yTitle: 'Proportion of samples in cluster', yNameGap: 17.5, yTitleFont: 9.2, gap: '8%', stack: ageStack });

// ---- D
function genusPanel(cfg) {
  const g = grid.length;
  grid.push({ left: cfg.left, top: cfg.top, width: cfg.width, height: cfg.height });
  xAxis.push({ gridIndex: g, type: 'value', min: cfg.xMin, max: cfg.xMax, splitLine: { show: false },
    axisLine: { onZero: false, lineStyle: { color: '#111', width: 1 } },
    axisTick: { length: 2, lineStyle: { color: '#333' }, customValues: [0,3,6,9] },
    axisLabel: { customValues: [0,3,6,9], fontSize: 3.6, color: '#444', fontFamily: FONT, margin: 7 } });
  yAxis.push({ gridIndex: g, type: 'category', inverse: true, data: cfg.genus,
    axisLine: { onZero: false, lineStyle: { color: '#111', width: 1 } },
    axisTick: { alignWithLabel: true, length: 3, lineStyle: { color: '#333' } },
    axisLabel: { interval: 0, fontSize: cfg.font, color: '#444', fontFamily: FONT, margin: 6 } });
  series.push({ name: cfg.title, type: 'bar', xAxisIndex: xAxis.length - 1, yAxisIndex: g, barCategoryGap: '14%', silent: true, animation: false,
    data: cfg.vals.map((v, i) => ({ value: v, itemStyle: { color: phylaColors[cfg.phyla[i]] } })) });
  addText(cfg.titleX, cfg.titleY, cfg.title, 11, { family: TITLE_FONT, fill: '#222' });
}
genusPanel({ title: 'Cluster 1', titleX: 49, titleY: 445, left: 81, top: 453.6, width: 119, height: 61.9, xMin: -0.53, xMax: 10.55, genus: c1Genus, vals: c1Vals, phyla: c1Phyla, font: 5.9 });
genusPanel({ title: 'Cluster 2', titleX: 229, titleY: 445, left: 268.3, top: 459.5, width: 114.4, height: 55.5, xMin: -0.55, xMax: 10.48, genus: c2Genus, vals: c2Vals, phyla: c2Phyla, font: 7.6 });
genusPanel({ title: 'Cluster 4', titleX: 430.7, titleY: 445, left: 483.3, top: 460, width: 86.7, height: 55.2, xMin: -0.52, xMax: 11.6, genus: c4Genus, vals: c4Vals, phyla: c4Phyla, font: 7.4 });
genusPanel({ title: 'Cluster 5', titleX: 49, titleY: 543, left: 80, top: 559, width: 133, height: 54.3, xMin: -0.54, xMax: 11.47, genus: c5Genus, vals: c5Vals, phyla: c5Phyla, font: 7.4 });
genusPanel({ title: 'Cluster 6', titleX: 229, titleY: 543, left: 268.3, top: 560.4, width: 122.4, height: 52.9, xMin: -0.46, xMax: 10.87, genus: c6Genus, vals: c6Vals, phyla: c6Phyla, font: 7.4 });
genusPanel({ title: 'Cluster 7', titleX: 430.7, titleY: 543, left: 482.7, top: 558, width: 100.6, height: 55.3, xMin: -0.55, xMax: 11.47, genus: c7Genus, vals: c7Vals, phyla: c7Phyla, font: 7.4 });

// phyla key
const phylaY = [464, 478.3, 492.7, 507, 521.3, 535.3, 551.7, 565.7, 579.7, 593.3, 607.3];
phylaNames.forEach((n, i) => {
  addRect(624, phylaY[i] - 6.6, 12.7, 13.2, phylaColors[phylaKeys[i]]);
  addText(641.7, phylaY[i], n, 7, { fill: '#333' });
});

// ecology key between B and C
const ecoKey = [['aquatic','#b0623a',426,440],['soil','#6f9a4a',465.3,480],['gut (human)','#d4a535',495,509],['human other','#b22a30',548,562.7],['plants & corals','#c0287e',604,618],['gut (non-human)','#6a5a9e',661.7,676]];
ecoKey.forEach(k => {
  graphic.push({ type: 'rect', silent: true, shape: { x: k[2], y: 201.8, width: 9.6, height: 8.4 }, style: { fill: k[1], stroke: '#333', lineWidth: 0.8 } });
  graphic.push({ type: 'line', silent: true, shape: { x1: k[2], y1: 206, x2: k[2] + 9.6, y2: 206 }, style: { stroke: '#333', lineWidth: 0.8 } });
  addText(k[3], 206, k[0], 5.9, { fill: '#333' });
});

// E and F keys
addText(47, 877, 'westernized', 9.5);
[['No','#cd6d65',103.7,118.3],['Yes','#6cb3af',136.7,151],['NA','#cccccc',170,185]].forEach(k => {
  addRect(k[2], 872, 10, 10, k[1]);
  addText(k[3], 877, k[0], 7.6);
});
[['adult','#85ba98',274,288.7,871.7],['child','#d2855f',274,288.7,882.7],['newborn','#8c98bc',309.3,324,871.7],['school_age','#c47fae',309.3,324,882.7],['senior','#aecb62',370,385,871.7],['NA','#cccccc',370,385,882.7]].forEach(k => {
  addRect(k[2], k[4], 10, 10, k[1]);
  addText(k[3], k[4] + 5, k[0], 8);
});

// panel letters
[['A)',1,10],['B)',352,9],['C)',352,218],['D)',0,441],['E)',0,644],['F)',226,644]].forEach(l => {
  addText(l[1], l[2], l[0], 14, { family: TITLE_FONT, fill: '#111' });
});

const myChart = echarts.init(document.getElementById('main'), null, { renderer: 'canvas' });
myChart.setOption({
  backgroundColor: '#fff',
  animation: false,
  legend: { data: clusterLegend, orient: 'vertical', left: 272.7, top: 8.5, itemWidth: 6, itemHeight: 6, itemGap: 2.6, icon: 'circle', selectedMode: false, padding: 0,
    textStyle: { color: '#dcdcdc', fontSize: 6.5, fontFamily: FONT } },
  grid: grid,
  xAxis: xAxis,
  yAxis: yAxis,
  series: series,
  graphic: graphic
});
</script>
</body>
</html>
